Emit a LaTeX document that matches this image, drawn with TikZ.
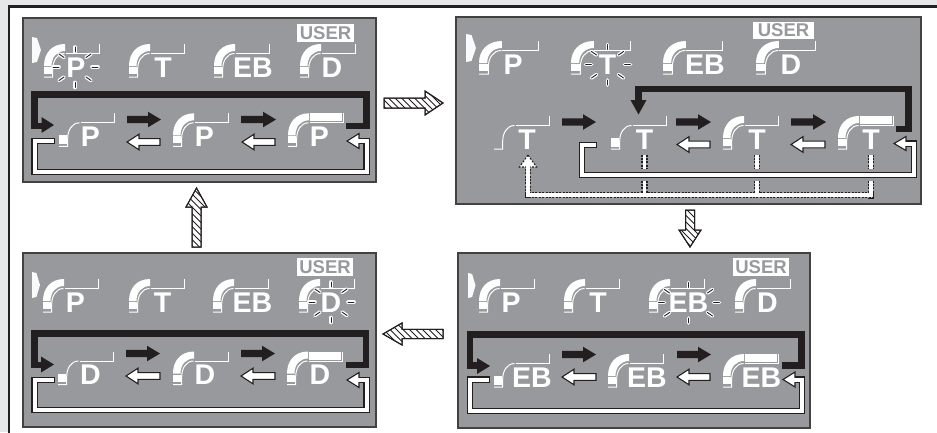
\documentclass[tikz,border=0pt]{standalone}
\usepackage{fontspec}
\setmainfont{Liberation Sans}
\definecolor{panelgray}{HTML}{98999C}
\definecolor{edgegray}{HTML}{E6E7E8}
\definecolor{inkdark}{HTML}{231F20}
\newcounter{lblc}
\tikzset{
  panel/.style={draw=inkdark!85,line width=1.3pt,fill=panelgray,inner sep=0pt,outer sep=0pt},
  thinl/.style={draw=white,line width=1pt,line join=miter},
  lettr/.style={text=white,font=\fontsize{28.5}{28.5}\selectfont\bfseries,inner sep=0pt,anchor=base},
  userbox/.style={fill=white,text=panelgray,font=\fontsize{18.5}{18.5}\selectfont\bfseries,inner sep=0pt,anchor=center},
  thickp/.style={draw=inkdark,line width=6.4pt,line join=miter},
  hatchbox/.style={draw=inkdark,line width=1pt,fill=white,line join=miter},
  wouter/.style={draw=inkdark,line width=6.6pt,line join=miter},
  winner/.style={draw=white,line width=4pt,line join=miter},
  douter/.style={draw=inkdark,line width=6.6pt,dash pattern=on 2pt off 1.4pt},
  dinner/.style={draw=white,line width=3.6pt,line join=miter},
}
% x, baseline y, xscale, mode, letter, letter centre x
\newcommand{\icn}[6]{%
  \begin{scope}[shift={(#1,#2)},xscale=#3]
    \ifnum#4>1
      \fill[white] (0,-11) .. controls (0,-24) and (8,-33) .. (21,-33) -- (21,-26) .. controls (13,-26) and (7.5,-20) .. (7.5,-11) -- cycle;
      \fill[white] (0,-10) rectangle (8,-3);
    \fi
    \ifnum#4=1
      \fill[white] (0,-11) rectangle (8,-2.3);
    \fi
    \ifnum#4=3
      \fill[white] (22,-33) rectangle (54,-25);
    \fi
    \draw[thinl] (0,0) -- (8.7,0) -- (8.7,-8) .. controls (8.7,-16) and (13,-23.5) .. (20.5,-23.5);
    \draw[thinl] (21.5,-23.5) -- (55,-23.5) -- (55,-33);
  \end{scope}
  \stepcounter{lblc}%
  \node[lettr] (lbl\arabic{lblc}) at (#6,#2) {#5};
}
\newcommand{\rays}[3]{%
  \begin{scope}[shift={(#1,#2)}]
    \foreach \xa/\ya/\xb/\yb in {0/-20/0/-15, 0/15.5/0/20.5, 17/0/23/0, -22/0/-16/0, -16/-13/-11/-9.5, 11/-9.5/16/-13, -16/13.5/-11/10, 11/10/16/13.5}{
      \pgfmathsetmacro{\sx}{ifthenelse(\xa==0,0,ifthenelse(\xa>0,#3,-#3))}
      \draw[white,line width=3.6pt,line cap=round] (\xa+\sx,\ya) -- (\xb+\sx,\yb);
      \draw[inkdark,line width=0.9pt,line cap=round] (\xa+\sx,\ya) -- (\xb+\sx,\yb);
    }
  \end{scope}
}
\newcommand{\mk}[4]{\fill[white!95!panelgray] (#1,#2) -- (#1+#4*0.55,#2+1) -- (#1+#4,#2+#3*0.5) -- (#1+#4*0.55,#2+#3-1) -- (#1,#2+#3) -- cycle;}
% tip x, tail x, y
\newcommand{\blarrow}[3]{\pgfmathsetmacro{\dirn}{ifthenelse(#2>#1,1,-1)}
  \fill[inkdark] (#1,#3) -- (#1+\dirn*13,#3-7.8) -- (#1+\dirn*13,#3-3.6) -- (#2,#3-3.6) -- (#2,#3+3.6) -- (#1+\dirn*13,#3+3.6) -- (#1+\dirn*13,#3+7.8) -- cycle;}
\newcommand{\wharrow}[3]{\draw[fill=white,draw=inkdark,line width=1.1pt,line join=miter] (#1,#3) -- (#1+12,#3-7.8) -- (#1+12,#3-3.4) -- (#2,#3-3.4) -- (#2,#3+3.4) -- (#1+12,#3+3.4) -- (#1+12,#3+7.8) -- cycle;}
% tail x, tail y, angle, length, head length, half head, half shaft, hatch sign
\newcommand{\hatcharrow}[8]{%
  \begin{scope}[shift={(#1,#2)},rotate=#3]
    \path[hatchbox] (0,-#7) -- (#4-#5,-#7) -- (#4-#5,-#6) -- (#4,0) -- (#4-#5,#6) -- (#4-#5,#7) -- (0,#7) -- cycle;
    \begin{scope}
      \clip (0,-#7) -- (#4-#5,-#7) -- (#4-#5,-#6) -- (#4,0) -- (#4-#5,#6) -- (#4-#5,#7) -- (0,#7) -- cycle;
      \foreach \s in {-10,-3.5,...,80}{
        \draw[inkdark,line width=0.9pt] (\s-20,-20*#8) -- (\s+20,20*#8);
      }
    \end{scope}
    \path[draw=inkdark,line width=1pt,line join=miter] (0,-#7) -- (#4-#5,-#7) -- (#4-#5,-#6) -- (#4,0) -- (#4-#5,#6) -- (#4-#5,#7) -- (0,#7) -- cycle;
  \end{scope}
}
\newcommand{\panelbox}[5]{\node[panel,minimum width=#3-#1,minimum height=#4-#2,anchor=north west] (#5) at (#1,#2) {};}
\begin{document}
\begin{tikzpicture}[x=1pt,y=-1pt]
\useasboundingbox (0,0) rectangle (937,432);
\clip (0,0) rectangle (937,432);
\fill[edgegray] (0,0) rectangle (937,432);
\draw[draw=inkdark,fill=white,line width=2.4pt] (9,6.3) rectangle (950,445);

\panelbox{23}{18}{376}{182}{pa}
\panelbox{456}{17}{921}{204}{pb}
\panelbox{458}{253}{810}{428}{pc}
\panelbox{23}{253}{376}{427}{pd}

% hatched arrows between panels
\hatcharrow{384}{103}{0}{59}{18}{12}{5}{1}
\hatcharrow{690}{210}{-90}{37}{17}{11}{4.5}{-1}
\hatcharrow{443}{334}{180}{60}{19}{11}{4.7}{1}
\hatcharrow{196.5}{247}{90}{59}{19}{10.5}{4.5}{-1}

% panel A
\mk{32}{37}{26}{9}
\icn{44}{77}{1}{2}{P}{76}
\icn{129}{77}{1}{2}{T}{163}
\icn{214}{77}{1}{2}{EB}{253}
\icn{300}{77}{1}{2}{D}{332}
\rays{75}{67}{0}
\node[userbox,minimum width=57pt,minimum height=18pt] (ua) at (325.5,33) {USER};
\icn{59}{146.3}{1}{1}{P}{90.5}
\icn{173}{146.3}{1}{2}{P}{204.5}
\icn{288}{146.3}{1}{3}{P}{319.5}
\blarrow{161}{127}{119.5}
\blarrow{276}{241}{119.5}
\wharrow{127}{160}{142}
\wharrow{242}{275}{142}
\draw[thickp] (346,126) -- (366.5,126) -- (366.5,94.3) -- (34.5,94.3) -- (34.5,126) -- (43,126);
\fill[inkdark] (54,125) -- (41.5,117) -- (41.5,133) -- cycle;
\draw[wouter] (54.5,141) -- (34.5,141) -- (34.5,172) -- (366.5,172) -- (366.5,141) -- (358,141);
\draw[fill=white,draw=inkdark,line width=1.1pt,line join=miter] (347,141) -- (359,133.5) -- (359,148.5) -- cycle;
\draw[winner] (53.5,141) -- (34.5,141) -- (34.5,172) -- (366.5,172) -- (366.5,141) -- (356,141);

% panel B
\mk{466}{34}{28}{10}
\icn{479}{74}{1.09}{2}{P}{513}
\icn{571}{74}{1.09}{2}{T}{607.5}
\icn{663}{74}{1.09}{2}{EB}{705}
\icn{756}{74}{1.09}{2}{D}{791}
\rays{607.5}{64.5}{0}
\node[userbox,minimum width=61pt,minimum height=17.5pt] (ub) at (783.5,30.5) {USER};
\icn{494}{149}{1}{0}{T}{527}
\icn{611}{149}{1}{1}{T}{644.5}
\icn{723}{149}{1}{2}{T}{757}
\icn{838}{149}{1}{3}{T}{871}
\blarrow{596}{562}{122}
\blarrow{711}{676}{122}
\blarrow{826}{791}{122}
\wharrow{677}{710}{144.5}
\wharrow{791}{825}{144.5}
\draw[thickp] (896,129) -- (908.5,129) -- (908.5,89) -- (638.5,89) -- (638.5,102);
\fill[inkdark] (638.5,114.5) -- (630.5,100) -- (646.5,100) -- cycle;
\draw[wouter] (596.5,145) -- (582,145) -- (582,175) -- (914,175) -- (914,143.5) -- (905,143.5);
\draw[fill=white,draw=inkdark,line width=1.1pt,line join=miter] (894,143.5) -- (906,136.5) -- (906,150.5) -- cycle;
\draw[winner] (595.5,145) -- (582,145) -- (582,175) -- (914,175) -- (914,143.5) -- (903,143.5);
% dotted feedback
\draw[douter] (644.5,154.5) -- (644.5,169);
\draw[douter] (757,154.5) -- (757,169);
\draw[douter] (871,154.5) -- (871,169);
\draw[douter] (644.5,180.5) -- (644.5,195);
\draw[douter] (757,180.5) -- (757,195);
\draw[douter] (871,180.5) -- (871,198) (874,195) -- (525,195) (528,198) -- (528,166);
\draw[draw=inkdark,line width=1.1pt,dash pattern=on 2pt off 1.4pt,fill=white] (528,155) -- (519.5,167) -- (536.5,167) -- cycle;
\draw[dinner] (644.5,154.5) -- (644.5,169);
\draw[dinner] (757,154.5) -- (757,169);
\draw[dinner] (871,154.5) -- (871,169);
\draw[dinner] (644.5,180.5) -- (644.5,195);
\draw[dinner] (757,180.5) -- (757,195);
\draw[dinner] (871,180.5) -- (871,195) -- (528,195) -- (528,165);

% panel C
\mk{468}{273}{25}{7.5}
\icn{479}{312}{1}{2}{P}{511}
\icn{564}{312}{1}{2}{T}{598}
\icn{649}{312}{1}{2}{EB}{688.5}
\icn{735}{312}{1}{2}{D}{767.5}
\rays{688.5}{302.5}{8}
\node[userbox,minimum width=56pt,minimum height=18pt] (uc) at (761,267) {USER};
\icn{494}{387}{1}{1}{EB}{532}
\icn{608}{387}{1}{2}{EB}{647}
\icn{723}{387}{1}{3}{EB}{761.5}
\blarrow{596}{562}{354.5}
\blarrow{711}{677}{354.5}
\wharrow{562}{596}{377}
\wharrow{677}{710}{377}
\draw[thickp] (782,365.5) -- (801.5,365.5) -- (801.5,334.5) -- (470,334.5) -- (470,365.5) -- (478,365.5);
\fill[inkdark] (490,366) -- (477,358) -- (477,374) -- cycle;
\draw[wouter] (489.5,379.5) -- (470,379.5) -- (470,411) -- (802,411) -- (802,379.5) -- (794,379.5);
\draw[fill=white,draw=inkdark,line width=1.1pt,line join=miter] (783,379.5) -- (795,372) -- (795,387) -- cycle;
\draw[winner] (488.5,379.5) -- (470,379.5) -- (470,411) -- (802,411) -- (802,379.5) -- (792,379.5);

% panel D
\mk{32}{272}{26}{8}
\icn{43}{312}{1}{2}{P}{75.5}
\icn{129}{312}{1}{2}{T}{162.5}
\icn{213}{312}{1}{2}{EB}{252.5}
\icn{299}{312}{1}{2}{D}{331}
\rays{331}{302}{0}
\node[userbox,minimum width=56pt,minimum height=18pt] (ud) at (325,267) {USER};
\icn{58}{384.5}{1}{1}{D}{90.5}
\icn{173}{384.5}{1}{2}{D}{205}
\icn{287}{384.5}{1}{3}{D}{320}
\blarrow{160}{126}{353.5}
\blarrow{275}{241}{353.5}
\wharrow{126}{160}{376}
\wharrow{241}{275}{376}
\draw[thickp] (346,365) -- (366,365) -- (366,333.5) -- (34.5,333.5) -- (34.5,365) -- (42,365);
\fill[inkdark] (54,364.5) -- (41,356.5) -- (41,372.5) -- cycle;
\draw[wouter] (54.5,380) -- (34.5,380) -- (34.5,410) -- (366.5,410) -- (366.5,380) -- (358,380);
\draw[fill=white,draw=inkdark,line width=1.1pt,line join=miter] (347,380) -- (359,372.5) -- (359,387.5) -- cycle;
\draw[winner] (53.5,380) -- (34.5,380) -- (34.5,410) -- (366.5,410) -- (366.5,380) -- (356,380);
\end{tikzpicture}
\end{document}
